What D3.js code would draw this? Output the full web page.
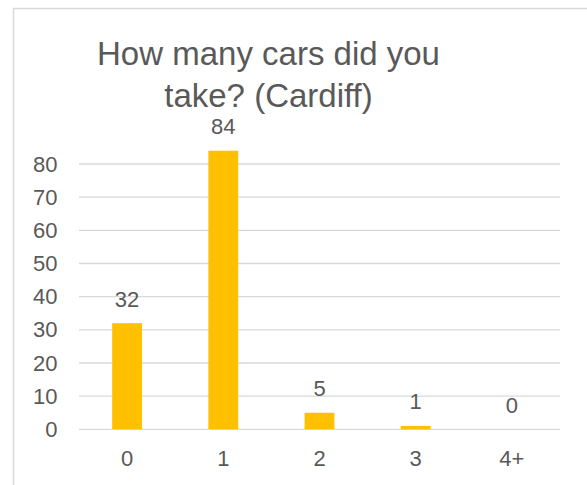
<!DOCTYPE html>
<html>
<head>
<meta charset="utf-8">
<script src="https://cdn.jsdelivr.net/npm/d3@7/dist/d3.min.js"></script>
<style>
  html, body { margin: 0; padding: 0; background: #fff; }
  svg { display: block; font-family: "Liberation Sans", Arial, sans-serif; }
</style>
</head>
<body>
<svg id="chart" width="587" height="485"></svg>
<script>
// Survey answers: number of cars taken (Cardiff)
const categories = ["0", "1", "2", "3", "4+"];
const counts = [32, 84, 5, 1, 0];
const yTicks = [0, 10, 20, 30, 40, 50, 60, 70, 80];
const titleLines = ["How many cars did you", "take? (Cardiff)"];

const svg = d3.select("#chart");
const textColor = "#595959";
const gridColor = "#d9d9d9";
const barColor = "#ffc000";
const labelSize = 22;

// chart frame
svg.append("rect")
  .attr("x", 13.5).attr("y", 8.5)
  .attr("width", 600).attr("height", 500)
  .attr("fill", "#fff")
  .attr("stroke", gridColor)
  .attr("stroke-width", 1.5);

const left = 79, right = 560, bottom = 429.3, top80 = 164;

const x = d3.scaleBand()
  .domain(categories)
  .range([left, right])
  .paddingInner(0.69)
  .paddingOuter(0.345);

const y = d3.scaleLinear()
  .domain([0, 80])
  .range([bottom, top80]);

// gridlines
svg.append("g")
  .selectAll("line")
  .data(yTicks)
  .join("line")
  .attr("x1", left).attr("x2", right)
  .attr("y1", d => y(d)).attr("y2", d => y(d))
  .attr("stroke", gridColor)
  .attr("stroke-width", 1.3);

// y axis labels
const yAxis = d3.axisLeft(y).tickValues(yTicks).tickSize(0).tickPadding(0);
const gy = svg.append("g")
  .attr("transform", `translate(57.5,0)`)
  .call(yAxis);
gy.select(".domain").remove();
gy.selectAll("text")
  .attr("fill", textColor)
  .attr("font-size", labelSize)
  .attr("font-family", "Liberation Sans, Arial, sans-serif");

// x axis labels
const xAxis = d3.axisBottom(x).tickSize(0).tickPadding(0);
const gx = svg.append("g")
  .attr("transform", `translate(0,${bottom})`)
  .call(xAxis);
gx.select(".domain").remove();
gx.selectAll("text")
  .attr("dy", null)
  .attr("y", 36.7)
  .attr("fill", textColor)
  .attr("font-size", labelSize)
  .attr("font-family", "Liberation Sans, Arial, sans-serif");

// bars
svg.append("g")
  .selectAll("rect")
  .data(categories.map((c, i) => ({ c, v: counts[i] })))
  .join("rect")
  .attr("x", d => x(d.c))
  .attr("width", x.bandwidth())
  .attr("y", d => y(d.v))
  .attr("height", d => y(0) - y(d.v))
  .attr("fill", barColor);

// value labels
svg.append("g")
  .selectAll("text")
  .data(categories.map((c, i) => ({ c, v: counts[i] })))
  .join("text")
  .attr("x", d => x(d.c) + x.bandwidth() / 2)
  .attr("y", d => y(d.v) - 16.5)
  .attr("text-anchor", "middle")
  .attr("fill", textColor)
  .attr("font-size", labelSize)
  .text(d => d.v);

// title
svg.append("text")
  .attr("text-anchor", "middle")
  .attr("fill", textColor)
  .attr("font-size", 33)
  .selectAll("tspan")
  .data(titleLines)
  .join("tspan")
  .attr("x", 268.5)
  .attr("y", (d, i) => 65 + i * 42.3)
  .text(d => d);
</script>
</body>
</html>
